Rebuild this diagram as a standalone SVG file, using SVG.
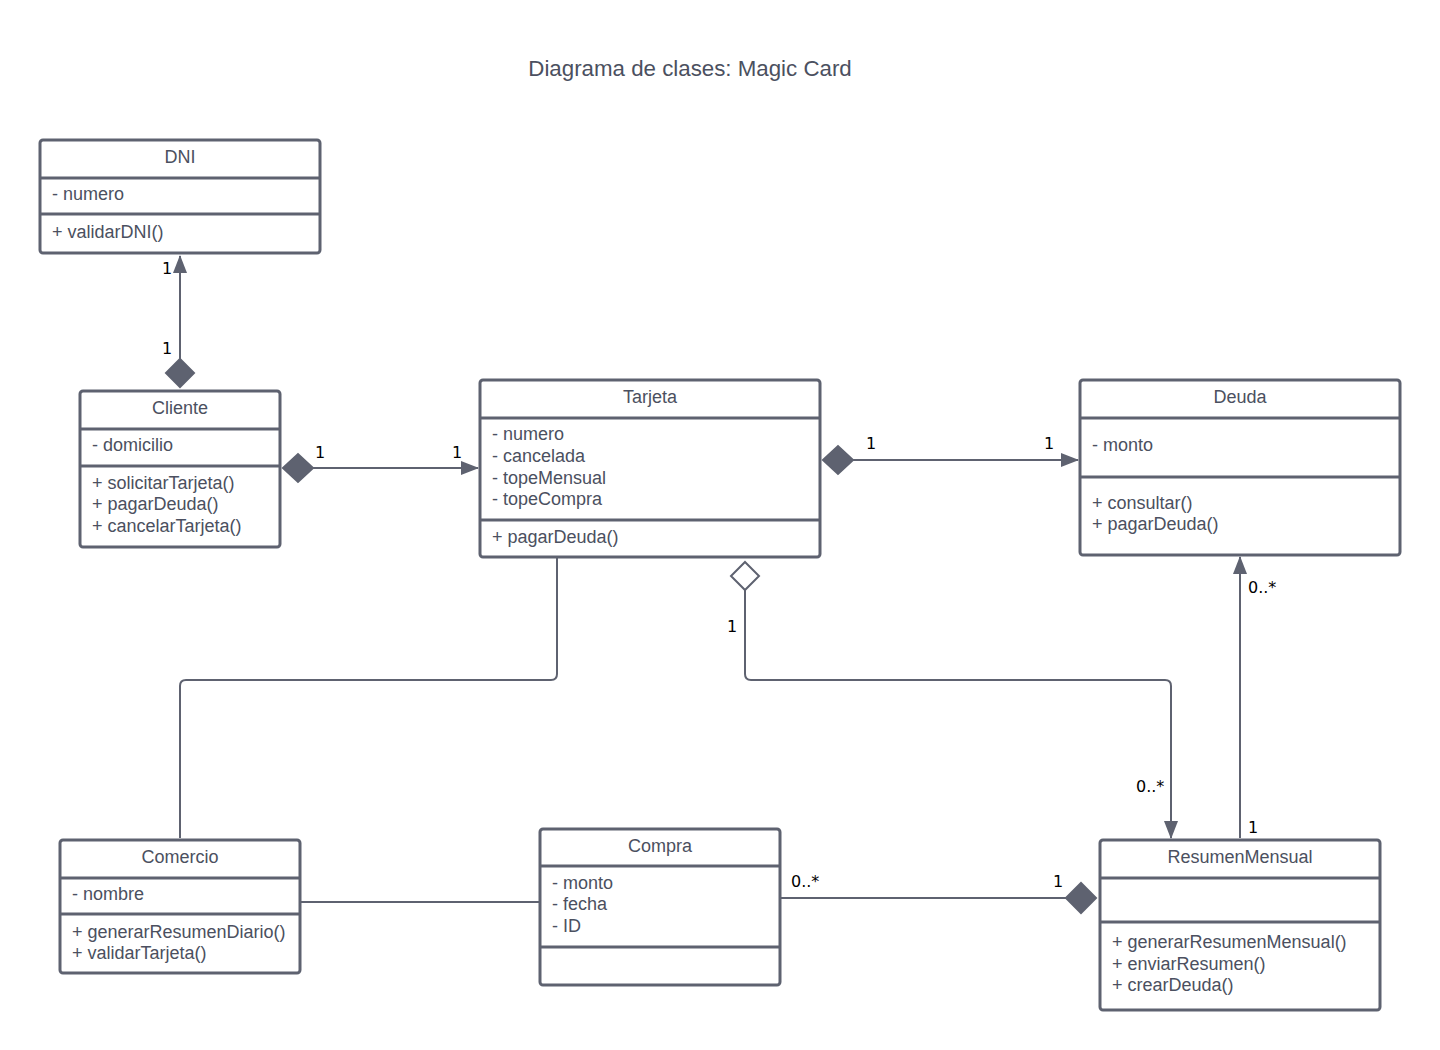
<svg xmlns="http://www.w3.org/2000/svg" width="1440" height="1050" viewBox="0 0 1440 1050">
<style>
.box{fill:#fff;stroke:#5e6270;stroke-width:3}
.div{stroke:#5e6270;stroke-width:3}
.t{font-family:"Liberation Sans",Arial,sans-serif;font-size:18px;fill:#4b5060}
.c{text-anchor:middle}
.ln{fill:none;stroke:#5e6270;stroke-width:2}
.lbl{font-family:"DejaVu Sans","Noto Sans",sans-serif;font-size:16px;fill:#000}
.fd{fill:#5e6270;stroke:#5e6270;stroke-width:2}
.od{fill:#fff;stroke:#5e6270;stroke-width:2}
</style>
<defs>
<marker id="arr" markerWidth="18" markerHeight="14" refX="17" refY="7" orient="auto" markerUnits="userSpaceOnUse">
<path d="M0,0 L18,7 L0,14 Z" fill="#5e6270"/>
</marker>
</defs>
<rect width="1440" height="1050" fill="#fff"/>
<text x="690" y="76" class="t c" style="font-size:22.3px">Diagrama de clases: Magic Card</text>

<g id="connectors">
<path class="ln" d="M180,360 L180,256" marker-end="url(#arr)"/>
<path class="fd" d="M180,359 L194,373 L180,387 L166,373 Z"/>
<text class="lbl" x="162" y="274">1</text>
<text class="lbl" x="162" y="354">1</text>

<path class="ln" d="M313,468 L478,468" marker-end="url(#arr)"/>
<path class="fd" d="M283,468 L298,454 L313,468 L298,482 Z"/>
<text class="lbl" x="315" y="458">1</text>
<text class="lbl" x="452" y="458">1</text>

<path class="ln" d="M853,460 L1078,460" marker-end="url(#arr)"/>
<path class="fd" d="M823,460 L838,446 L853,460 L838,474 Z"/>
<text class="lbl" x="866" y="449">1</text>
<text class="lbl" x="1044" y="449">1</text>

<path class="ln" d="M557,558 L557,674 Q557,680 551,680 L186,680 Q180,680 180,686 L180,838"/>

<path class="ln" d="M745,590 L745,674 Q745,680 751,680 L1165,680 Q1171,680 1171,686 L1171,838" marker-end="url(#arr)"/>
<path class="od" d="M745,562 L759,576 L745,590 L731,576 Z"/>
<text class="lbl" x="727" y="632">1</text>
<text class="lbl" x="1136" y="792">0..*</text>

<path class="ln" d="M1240,838 L1240,557" marker-end="url(#arr)"/>
<text class="lbl" x="1248" y="593">0..*</text>
<text class="lbl" x="1248" y="833">1</text>

<path class="ln" d="M301,902 L540,902"/>

<path class="ln" d="M781,898 L1066,898"/>
<path class="fd" d="M1066,898 L1081,883 L1096,898 L1081,913 Z"/>
<text class="lbl" x="791" y="887">0..*</text>
<text class="lbl" x="1053" y="887">1</text>
</g>

<g id="DNI">
<rect class="box" x="40" y="140" width="280" height="113" rx="3"/>
<line class="div" x1="40" y1="178" x2="320" y2="178"/>
<line class="div" x1="40" y1="214" x2="320" y2="214"/>
<text class="t c" x="180" y="163">DNI</text>
<text class="t" x="52" y="200">- numero</text>
<text class="t" x="52" y="238">+ validarDNI()</text>
</g>

<g id="Cliente">
<rect class="box" x="80" y="391" width="200" height="156" rx="3"/>
<line class="div" x1="80" y1="429" x2="280" y2="429"/>
<line class="div" x1="80" y1="466" x2="280" y2="466"/>
<text class="t c" x="180" y="414">Cliente</text>
<text class="t" x="92" y="451">- domicilio</text>
<text class="t" x="92" y="489">+ solicitarTarjeta()</text>
<text class="t" x="92" y="510">+ pagarDeuda()</text>
<text class="t" x="92" y="532">+ cancelarTarjeta()</text>
</g>

<g id="Tarjeta">
<rect class="box" x="480" y="380" width="340" height="177" rx="3"/>
<line class="div" x1="480" y1="418" x2="820" y2="418"/>
<line class="div" x1="480" y1="520" x2="820" y2="520"/>
<text class="t c" x="650" y="403">Tarjeta</text>
<text class="t" x="492" y="440">- numero</text>
<text class="t" x="492" y="462">- cancelada</text>
<text class="t" x="492" y="484">- topeMensual</text>
<text class="t" x="492" y="505">- topeCompra</text>
<text class="t" x="492" y="543">+ pagarDeuda()</text>
</g>

<g id="Deuda">
<rect class="box" x="1080" y="380" width="320" height="175" rx="3"/>
<line class="div" x1="1080" y1="418" x2="1400" y2="418"/>
<line class="div" x1="1080" y1="477" x2="1400" y2="477"/>
<text class="t c" x="1240" y="403">Deuda</text>
<text class="t" x="1092" y="451">- monto</text>
<text class="t" x="1092" y="509">+ consultar()</text>
<text class="t" x="1092" y="530">+ pagarDeuda()</text>
</g>

<g id="Comercio">
<rect class="box" x="60" y="840" width="240" height="133" rx="3"/>
<line class="div" x1="60" y1="878" x2="300" y2="878"/>
<line class="div" x1="60" y1="914" x2="300" y2="914"/>
<text class="t c" x="180" y="863">Comercio</text>
<text class="t" x="72" y="900">- nombre</text>
<text class="t" x="72" y="938">+ generarResumenDiario()</text>
<text class="t" x="72" y="959">+ validarTarjeta()</text>
</g>

<g id="Compra">
<rect class="box" x="540" y="829" width="240" height="156" rx="3"/>
<line class="div" x1="540" y1="866" x2="780" y2="866"/>
<line class="div" x1="540" y1="947" x2="780" y2="947"/>
<text class="t c" x="660" y="852">Compra</text>
<text class="t" x="552" y="889">- monto</text>
<text class="t" x="552" y="910">- fecha</text>
<text class="t" x="552" y="932">- ID</text>
</g>

<g id="ResumenMensual">
<rect class="box" x="1100" y="840" width="280" height="170" rx="3"/>
<line class="div" x1="1100" y1="878" x2="1380" y2="878"/>
<line class="div" x1="1100" y1="922" x2="1380" y2="922"/>
<text class="t c" x="1240" y="863">ResumenMensual</text>
<text class="t" x="1112" y="948">+ generarResumenMensual()</text>
<text class="t" x="1112" y="970">+ enviarResumen()</text>
<text class="t" x="1112" y="991">+ crearDeuda()</text>
</g>
</svg>
